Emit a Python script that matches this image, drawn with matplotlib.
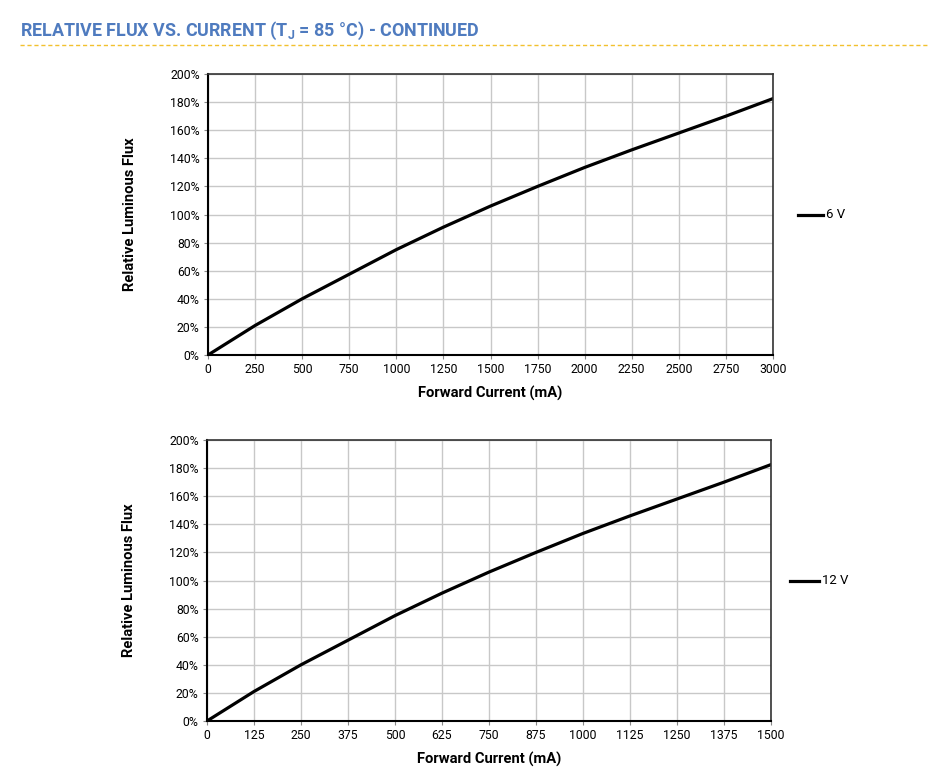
import matplotlib
matplotlib.use("Agg")
import matplotlib.pyplot as plt
from matplotlib.lines import Line2D
from matplotlib.ticker import FuncFormatter

plt.rcParams['font.family'] = ['Roboto', 'DejaVu Sans']

# Relative luminous flux (%)
flux_pct = [0, 21, 40, 57.5, 75, 91, 106, 120, 133.5, 146, 158, 170, 182.5]
current_6v = [0, 250, 500, 750, 1000, 1250, 1500, 1750, 2000, 2250, 2500, 2750, 3000]
current_12v = [0, 125, 250, 375, 500, 625, 750, 875, 1000, 1125, 1250, 1375, 1500]

title = "RELATIVE FLUX VS. CURRENT (T$_\\mathregular{J}$ = 85 °C) - CONTINUED"

fig = plt.figure(figsize=(9.29, 7.81), dpi=100)

fig.text(20 / 929, 1 - 31 / 781, title, color='#4f7bbf', fontsize=12.9,
         fontweight='bold', va='center', ha='left')
fig.add_artist(Line2D([20 / 929, 1.0], [1 - 45 / 781] * 2, color='#f2c12e',
                      lw=1.0, ls=(0, (3, 2))))


def draw_panel(rect, x, y, xmax, step, label, legend_xy):
    ax = fig.add_axes(rect)
    ax.plot(x, y, color='black', lw=2.3, solid_joinstyle='round')
    ax.set_xlim(0, xmax)
    ax.set_ylim(0, 200)
    ax.set_xticks(range(0, xmax + 1, step))
    ax.set_yticks(range(0, 201, 20))
    ax.yaxis.set_major_formatter(FuncFormatter(lambda v, p: f"{int(v)}%"))
    ax.grid(True, color='#c8c8c8', lw=1.0)
    ax.set_axisbelow(True)
    ax.tick_params(labelsize=8.8, length=3, color='#888888', pad=3)
    for s in ['top', 'right']:
        ax.spines[s].set_color('#333333')
        ax.spines[s].set_linewidth(1.2)
    for s in ['left', 'bottom']:
        ax.spines[s].set_color('black')
        ax.spines[s].set_linewidth(1.5)
    ax.set_xlabel("Forward Current (mA)", fontsize=10.6, fontweight='bold', labelpad=7)
    ax.set_ylabel("Relative Luminous Flux", fontsize=10.6, fontweight='bold', labelpad=24)
    lx, ly = legend_xy
    fig.add_artist(Line2D([lx[0] / 929, lx[1] / 929], [1 - ly / 781] * 2,
                          color='black', lw=2.3))
    fig.text(lx[1] / 929 + 3 / 929, 1 - ly / 781, label, fontsize=9.5,
             va='center', ha='left')
    return ax


draw_panel([208 / 929, 1 - 355 / 781, 565 / 929, 281 / 781],
           current_6v, flux_pct, 3000, 250, "6 V", ((798, 823), 215))
draw_panel([207 / 929, 1 - 721 / 781, 564 / 929, 281 / 781],
           current_12v, flux_pct, 1500, 125, "12 V", ((790, 819), 581))

fig.savefig("out.png", dpi=100)
